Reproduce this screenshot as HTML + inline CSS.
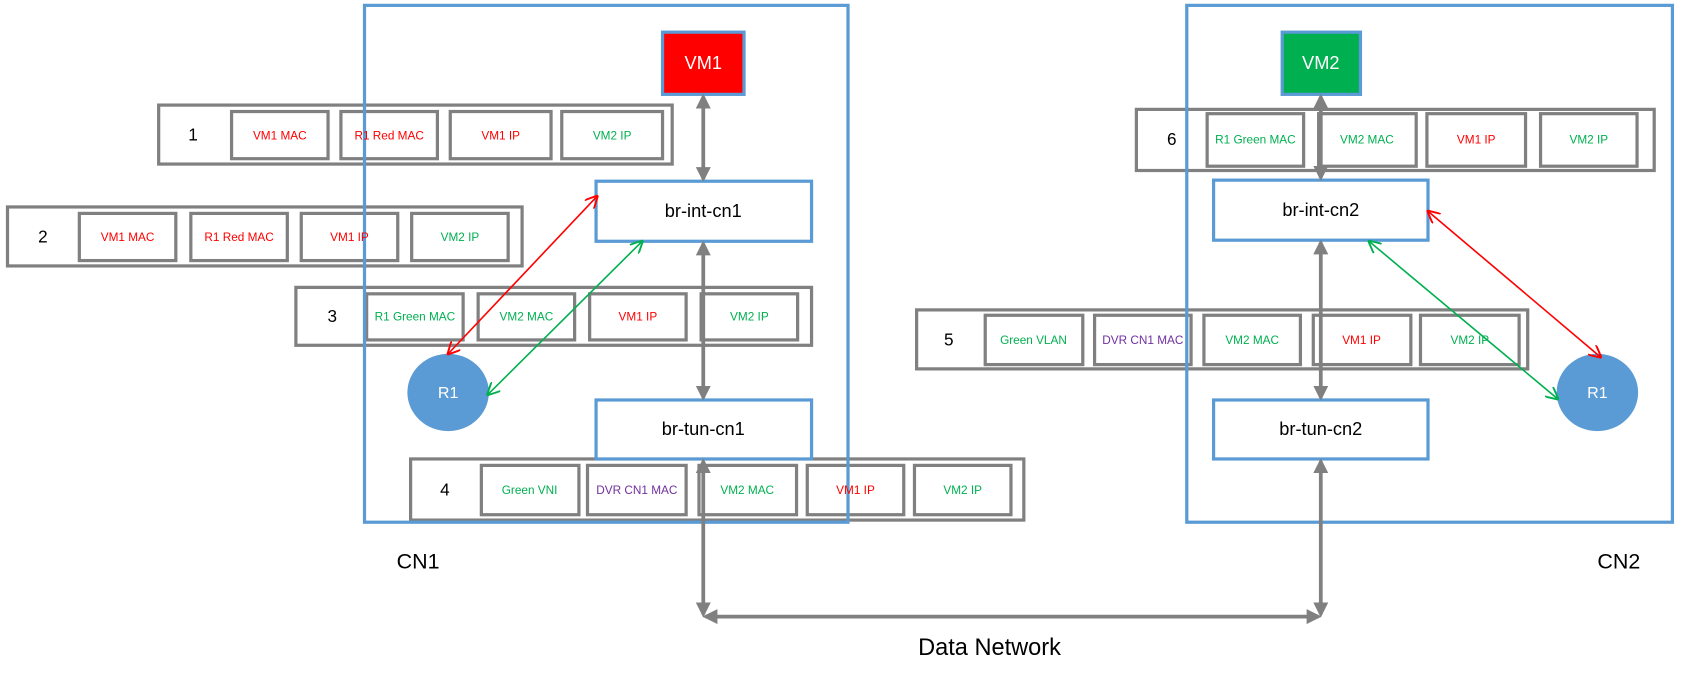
<!DOCTYPE html>
<html><head><meta charset="utf-8"><style>html,body{margin:0;padding:0;background:#fff}svg{display:block}</style></head><body>
<svg width="1681" height="682" viewBox="0 0 1568 636" preserveAspectRatio="none" xmlns="http://www.w3.org/2000/svg" font-family="Liberation Sans, sans-serif">
<defs>
<marker id="g" viewBox="0 0 10 10" refX="8" refY="5" markerWidth="4" markerHeight="4" orient="auto-start-reverse"><path d="M0,0 L10,5 L0,10 Z" fill="#808080"/></marker>
<marker id="r" viewBox="0 0 10 10" refX="9" refY="5" markerWidth="8" markerHeight="8" orient="auto-start-reverse"><path d="M0,0 L10,5 L0,10" fill="none" stroke="#f00" stroke-width="1.5"/></marker>
<marker id="gr" viewBox="0 0 10 10" refX="9" refY="5" markerWidth="8" markerHeight="8" orient="auto-start-reverse"><path d="M0,0 L10,5 L0,10" fill="none" stroke="#00b050" stroke-width="1.5"/></marker>
</defs>
<g fill="none" stroke="#808080" stroke-width="3">
<rect x="148" y="98" width="479" height="55"/>
<rect x="7" y="193" width="480" height="55"/>
<rect x="276" y="268" width="481" height="54"/>
<rect x="383" y="428" width="572" height="57"/>
<rect x="1060" y="102" width="483" height="57"/>
<rect x="855" y="289" width="570" height="55"/>
<rect x="216" y="104" width="90" height="44"/><rect x="318" y="104" width="90" height="44"/><rect x="420" y="104" width="94" height="44"/><rect x="524" y="104" width="94" height="44"/>
<rect x="74" y="199" width="90" height="44"/><rect x="178" y="199" width="90" height="44"/><rect x="281" y="199" width="90" height="44"/><rect x="384" y="199" width="90" height="44"/>
<rect x="342" y="274" width="90" height="43"/><rect x="446" y="274" width="90" height="43"/><rect x="550" y="274" width="90" height="43"/><rect x="654" y="274" width="90" height="43"/>
<rect x="449" y="434" width="91" height="46"/><rect x="548" y="434" width="92" height="46"/><rect x="652" y="434" width="91" height="46"/><rect x="753" y="434" width="90" height="46"/><rect x="853" y="434" width="90" height="46"/>
<rect x="1126" y="106" width="90" height="49"/><rect x="1230" y="106" width="91" height="49"/><rect x="1331" y="106" width="92" height="49"/><rect x="1437" y="106" width="90" height="49"/>
<rect x="919" y="294" width="91" height="46"/><rect x="1021" y="294" width="90" height="46"/><rect x="1123" y="294" width="90" height="46"/><rect x="1225" y="294" width="91" height="46"/><rect x="1325" y="294" width="92" height="46"/>
</g>
<g fill="none" stroke="#5b9bd5" stroke-width="3">
<rect x="340" y="5" width="451" height="482"/>
<rect x="1107" y="5" width="453" height="482"/>
</g>
<g stroke="#5b9bd5" stroke-width="3">
<rect x="618" y="30" width="76" height="58" fill="#f00"/>
<rect x="1196" y="30" width="73" height="58" fill="#00b050"/>
<rect x="556" y="169" width="201" height="56" fill="#fff"/>
<rect x="556" y="373" width="201" height="55" fill="#fff"/>
<rect x="1132" y="168" width="200" height="56" fill="#fff"/>
<rect x="1132" y="373" width="200" height="55" fill="#fff"/>
</g>
<ellipse cx="418" cy="366" rx="38" ry="36" fill="#5b9bd5"/>
<ellipse cx="1490" cy="366" rx="38" ry="36" fill="#5b9bd5"/>
<g stroke="#808080" stroke-width="3.5" fill="none" marker-start="url(#g)" marker-end="url(#g)">
<line x1="656" y1="90" x2="656" y2="167"/>
<line x1="656" y1="227" x2="656" y2="371"/>
<line x1="656" y1="430" x2="656" y2="573"/>
<line x1="658" y1="575" x2="1230" y2="575"/>
<line x1="1232" y1="430" x2="1232" y2="573"/>
<line x1="1232" y1="90" x2="1232" y2="166"/>
<line x1="1232" y1="226" x2="1232" y2="371"/>
</g>
<line x1="557" y1="183" x2="418" y2="330" stroke="#f00" stroke-width="1.5" marker-start="url(#r)" marker-end="url(#r)"/>
<line x1="599" y1="225" x2="455" y2="368" stroke="#00b050" stroke-width="1.5" marker-start="url(#gr)" marker-end="url(#gr)"/>
<line x1="1332" y1="197" x2="1493" y2="333" stroke="#f00" stroke-width="1.5" marker-start="url(#r)" marker-end="url(#r)"/>
<line x1="1277" y1="225" x2="1453" y2="372" stroke="#00b050" stroke-width="1.5" marker-start="url(#gr)" marker-end="url(#gr)"/>
<g text-anchor="middle" font-size="11" dominant-baseline="middle">
<text x="261" y="127" fill="#f00">VM1 MAC</text><text x="363" y="127" fill="#f00">R1 Red MAC</text><text x="467" y="127" fill="#f00">VM1 IP</text><text x="571" y="127" fill="#00b050">VM2 IP</text>
<text x="119" y="222" fill="#f00">VM1 MAC</text><text x="223" y="222" fill="#f00">R1 Red MAC</text><text x="326" y="222" fill="#f00">VM1 IP</text><text x="429" y="222" fill="#00b050">VM2 IP</text>
<text x="387" y="296" fill="#00b050">R1 Green MAC</text><text x="491" y="296" fill="#00b050">VM2 MAC</text><text x="595" y="296" fill="#f00">VM1 IP</text><text x="699" y="296" fill="#00b050">VM2 IP</text>
<text x="494" y="458" fill="#00b050">Green VNI</text><text x="594" y="458" fill="#7030a0">DVR CN1 MAC</text><text x="697" y="458" fill="#00b050">VM2 MAC</text><text x="798" y="458" fill="#f00">VM1 IP</text><text x="898" y="458" fill="#00b050">VM2 IP</text>
<text x="1171" y="131" fill="#00b050">R1 Green MAC</text><text x="1275" y="131" fill="#00b050">VM2 MAC</text><text x="1377" y="131" fill="#f00">VM1 IP</text><text x="1482" y="131" fill="#00b050">VM2 IP</text>
<text x="964" y="318" fill="#00b050">Green VLAN</text><text x="1066" y="318" fill="#7030a0">DVR CN1 MAC</text><text x="1168" y="318" fill="#00b050">VM2 MAC</text><text x="1270" y="318" fill="#f00">VM1 IP</text><text x="1371" y="318" fill="#00b050">VM2 IP</text>
</g>
<g text-anchor="middle" dominant-baseline="middle" font-size="16">
<text x="180" y="127">1</text><text x="40" y="222">2</text><text x="310" y="296">3</text><text x="415" y="458">4</text><text x="885" y="318">5</text><text x="1093" y="131">6</text>
<text x="656" y="60" fill="#fff" font-size="17">VM1</text><text x="1232" y="60" fill="#fff" font-size="17">VM2</text>
<text x="656" y="198" font-size="17">br-int-cn1</text><text x="656" y="401" font-size="17">br-tun-cn1</text>
<text x="1232" y="197" font-size="17">br-int-cn2</text><text x="1232" y="401" font-size="17">br-tun-cn2</text>
<text x="418" y="367" fill="#fff" font-size="15">R1</text><text x="1490" y="367" fill="#fff" font-size="15">R1</text>
<text x="390" y="525" font-size="20">CN1</text><text x="1510" y="525" font-size="20">CN2</text>
<text x="923" y="605" font-size="22">Data Network</text>
</g>
</svg>
</body></html>
